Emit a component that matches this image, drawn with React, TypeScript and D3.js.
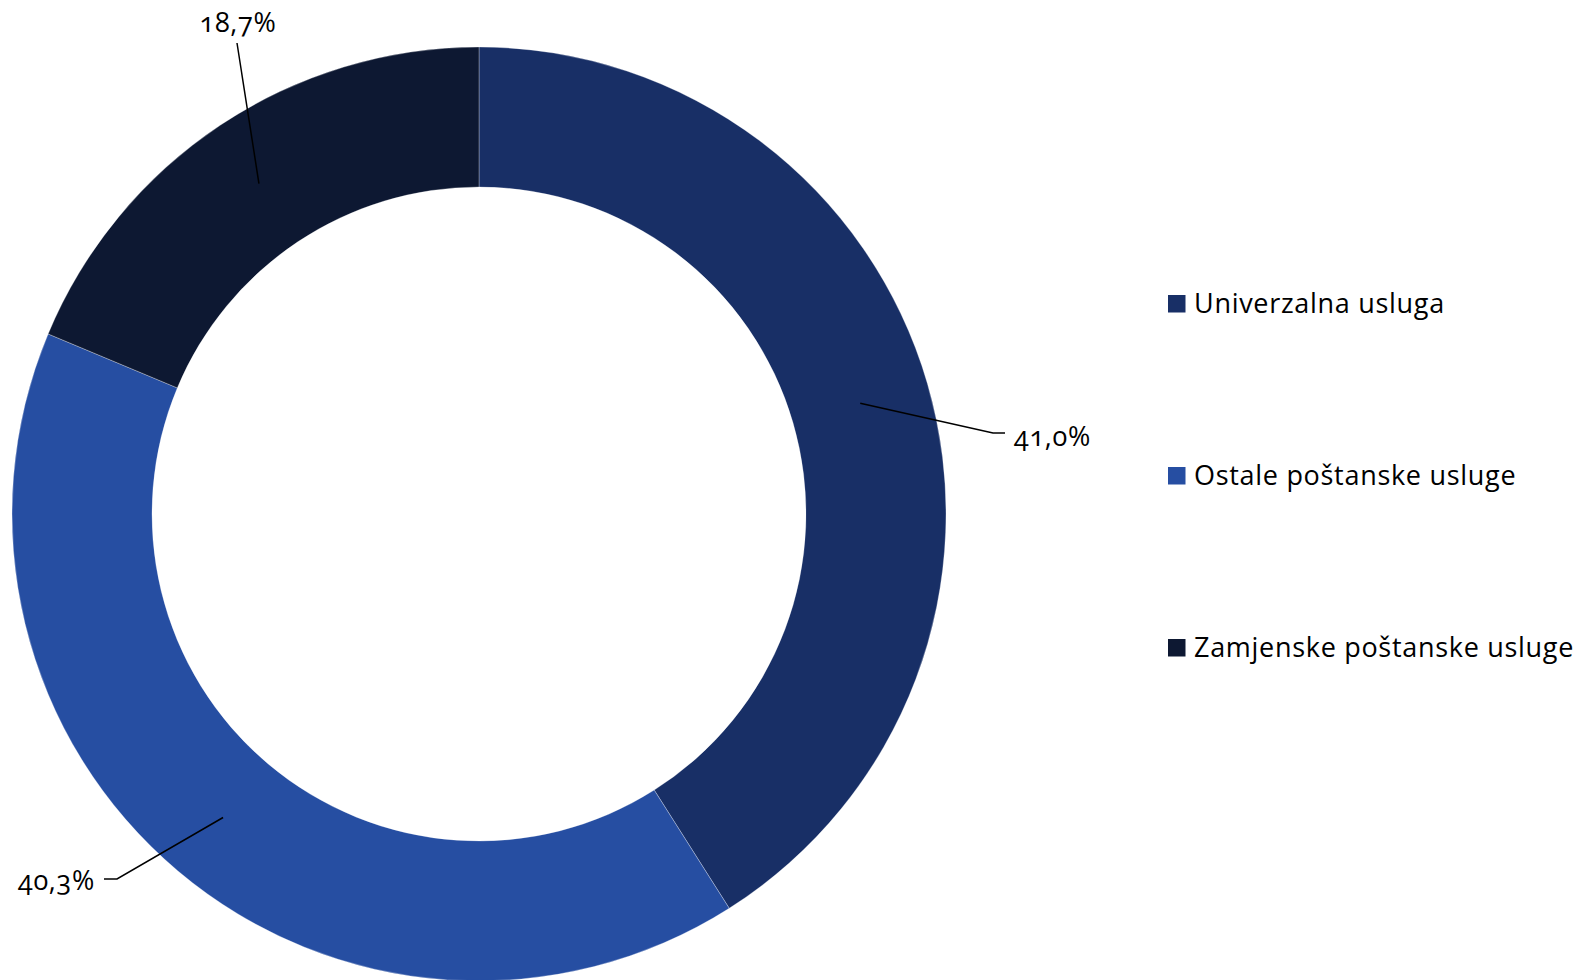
import React from "react";
import * as d3 from "d3";

const categories = ["Univerzalna usluga", "Ostale poštanske usluge", "Zamjenske poštanske usluge"];
const shares = [41.0, 40.3, 18.7];
const labels = ["41,0%", "40,3%", "18,7%"];
const colors = ["#182F66", "#264EA2", "#0D1832"];

const W = 1589;
const H = 980;
const CX = 479;
const CY = 514;
const R_OUT = 467;
const R_IN = 327;
const FONT = "'Open Sans', 'Noto Sans', sans-serif";
const FS = 27;
const LS = 0.7;

// manual label layout (leader elbow point, label anchor)
const labelLayout = [
  { elbow: [993, 433], end: [1005, 433], tx: 1014, ty: 446, anchor: "start" },
  { elbow: [117, 879], end: [104, 879], tx: 95, ty: 890, anchor: "end" },
  { elbow: [237, 43], end: [237, 43], tx: 238, ty: 32, anchor: "middle" },
];

export default function App() {
  const pie = d3.pie<number>().sort(null).value((d) => d)(shares);
  const arc = d3.arc<d3.PieArcDatum<number>>().innerRadius(R_IN).outerRadius(R_OUT);
  const mid = d3.arc<d3.PieArcDatum<number>>().innerRadius((R_IN + R_OUT) / 2).outerRadius((R_IN + R_OUT) / 2);

  return (
    <svg
      width={W}
      height={H}
      style={{ position: "absolute", left: 0, top: 0, background: "#fff" }}
      fontFamily={FONT}
    >
      <g transform={`translate(${CX},${CY})`}>
        {pie.map((p, i) => (
          <path key={i} d={arc(p) || ""} fill={colors[i]} stroke="#ffffff" strokeWidth={0.3} />
        ))}
      </g>
      {pie.map((p, i) => {
        const c = mid.centroid(p);
        const L = labelLayout[i];
        const pts = [[CX + c[0], CY + c[1]], L.elbow, L.end];
        return (
          <g key={i}>
            <polyline
              points={pts.map((q) => q.join(",")).join(" ")}
              fill="none"
              stroke="#000"
              strokeWidth={1.5}
            />
            <text
              x={L.tx}
              y={L.ty}
              textAnchor={L.anchor as any}
              fontSize={FS}
              letterSpacing={LS}
              fill="#000"
              style={{ fontVariantNumeric: "oldstyle-nums" }}
            >
              {labels[i]}
            </text>
          </g>
        );
      })}
      {categories.map((c, i) => (
        <g key={c} transform={`translate(1168,${295 + i * 172})`}>
          <rect x={0} y={0} width={17.5} height={17.5} fill={colors[i]} />
          <text x={26} y={18} fontSize={FS} letterSpacing={LS} fill="#000">
            {c}
          </text>
        </g>
      ))}
    </svg>
  );
}
